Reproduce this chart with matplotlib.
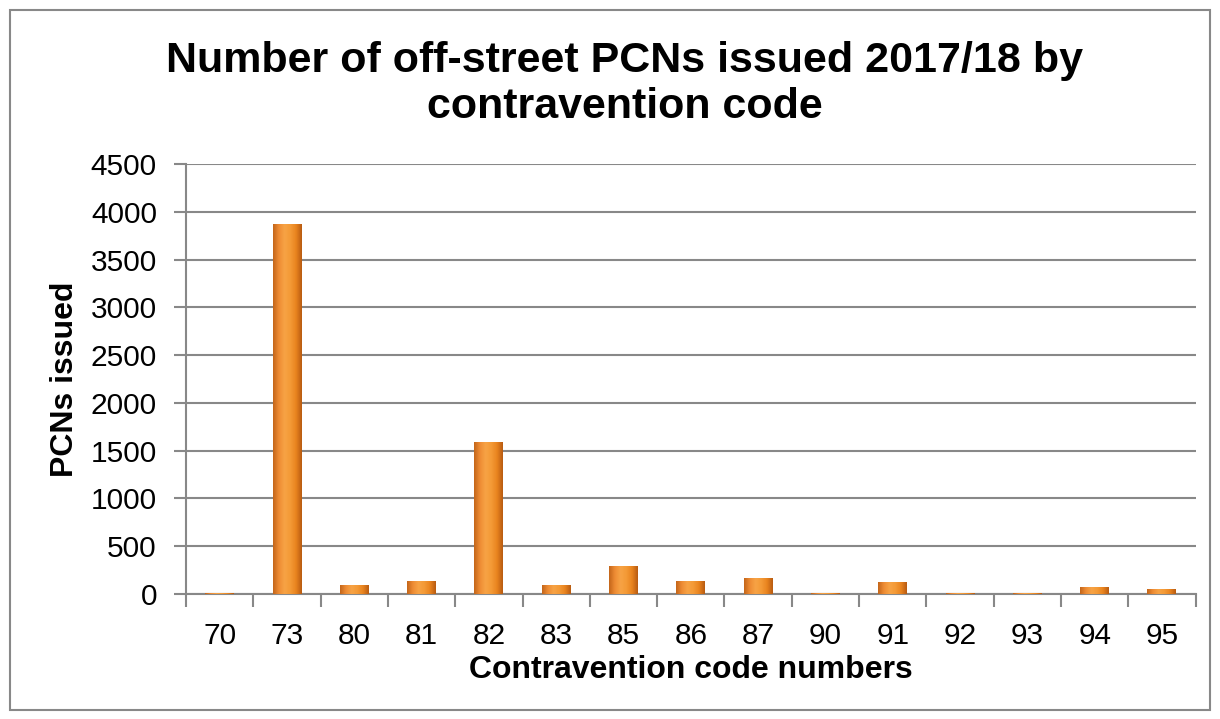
import numpy as np
import matplotlib.pyplot as plt
from matplotlib.patches import Rectangle
from matplotlib.colors import LinearSegmentedColormap

plt.rcParams['font.family'] = ['Liberation Sans', 'DejaVu Sans']

# contravention codes and PCN counts
codes = ["70", "73", "80", "81", "82", "83", "85", "86", "87", "90", "91", "92", "93", "94", "95"]
pcns = [10, 3870, 95, 140, 1590, 95, 290, 140, 168, 8, 122, 8, 15, 77, 53]

fig = plt.figure(figsize=(12.2, 7.19), dpi=100)
ax = fig.add_axes([0.1525, 0.1738, 0.8275, 0.598])

# outer chart border
fig.patches.append(Rectangle((10 / 1220, 9 / 719), 1200 / 1220, 700 / 719,
                             transform=fig.transFigure, fill=False,
                             edgecolor="#888888", linewidth=1.5))

x = np.arange(len(codes))
bars = ax.bar(x, pcns, width=0.43, color="#F29232", edgecolor="none", zorder=3)

# horizontal shading inside each bar (bevelled look)
shade = LinearSegmentedColormap.from_list(
    "bev", ["#C4661A", "#EE8C34", "#F7A345", "#F49A36", "#E9841F", "#B95C12"])
grad = np.linspace(0, 1, 64).reshape(1, -1)
for b in bars:
    x0, w, h = b.get_x(), b.get_width(), b.get_height()
    im = ax.imshow(grad, cmap=shade, extent=(x0, x0 + w, 0, h),
                   aspect="auto", origin="lower", zorder=4)
    im.set_clip_path(b)

ax.set_xlim(-0.5, len(codes) - 0.5)
ax.set_ylim(0, 4500)
ax.set_yticks(np.arange(0, 4501, 500))
ax.yaxis.grid(True, color="#888888", linewidth=1.5, zorder=0)
ax.set_axisbelow(True)

ax.set_xticks(x)
ax.set_xticklabels(codes)
ax.set_xticks(np.arange(-0.5, len(codes), 1.0), minor=True)
ax.tick_params(axis="x", which="major", length=0, pad=20, labelsize=21.5)
ax.tick_params(axis="x", which="minor", length=9, width=1.5, color="#888888")
ax.tick_params(axis="y", length=9, width=1.5, color="#888888", labelsize=21.5, pad=12)

for s in ["top", "right"]:
    ax.spines[s].set_visible(False)
for s in ["left", "bottom"]:
    ax.spines[s].set_color("#888888")
    ax.spines[s].set_linewidth(1.5)

ax.set_xlabel("Contravention code numbers", fontsize=23, fontweight="bold", labelpad=4)
ax.set_ylabel("PCNs issued", fontsize=23, fontweight="bold", labelpad=8)
fig.text(0.512, 0.883, "Number of off-street PCNs issued 2017/18 by\ncontravention code",
         ha="center", va="center", fontsize=31, fontweight="bold", linespacing=1.2)

fig.savefig("out.png", dpi=100)
